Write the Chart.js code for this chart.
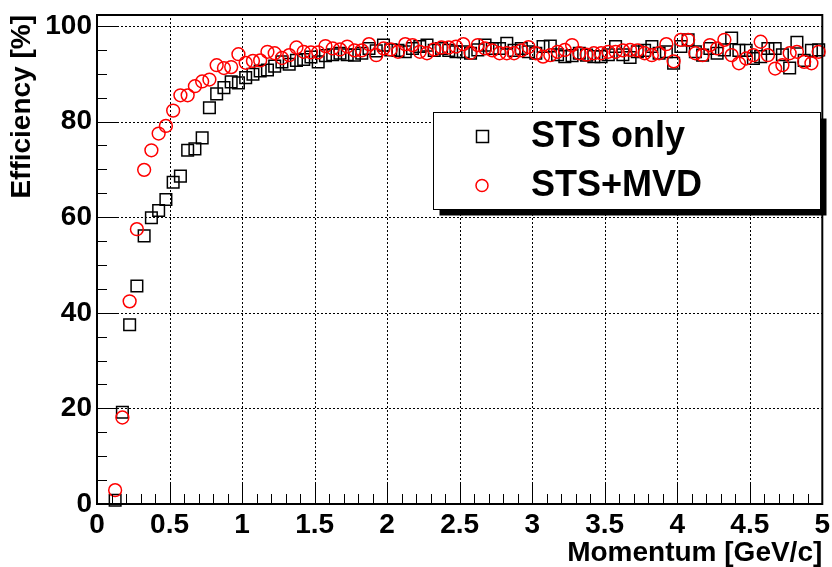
<!DOCTYPE html>
<html>
<head>
<meta charset="utf-8">
<script src="https://cdn.jsdelivr.net/npm/chart.js@4.4.1/dist/chart.umd.min.js"></script>
<style>
  html, body { margin: 0; padding: 0; background: #fff; }
  #wrap { width: 832px; height: 567px; }
</style>
</head>
<body>
<div id="wrap"><canvas id="effChart" width="832" height="567"></canvas></div>
<script>
// momentum bin centres [GeV/c]
const momentum = [
  0.125, 0.175, 0.225, 0.275, 0.325, 0.375, 0.425, 0.475, 0.525, 0.575,
  0.625, 0.675, 0.725, 0.775, 0.825, 0.875, 0.925, 0.975, 1.025, 1.075,
  1.125, 1.175, 1.225, 1.275, 1.325, 1.375, 1.425, 1.475, 1.525, 1.575,
  1.625, 1.675, 1.725, 1.775, 1.825, 1.875, 1.925, 1.975, 2.025, 2.075,
  2.125, 2.175, 2.225, 2.275, 2.325, 2.375, 2.425, 2.475, 2.525, 2.575,
  2.625, 2.675, 2.725, 2.775, 2.825, 2.875, 2.925, 2.975, 3.025, 3.075,
  3.125, 3.175, 3.225, 3.275, 3.325, 3.375, 3.425, 3.475, 3.525, 3.575,
  3.625, 3.675, 3.725, 3.775, 3.825, 3.875, 3.925, 3.975, 4.025, 4.075,
  4.125, 4.175, 4.225, 4.275, 4.325, 4.375, 4.425, 4.475, 4.525, 4.575,
  4.625, 4.675, 4.725, 4.775, 4.825, 4.875, 4.925, 4.975
];

// efficiency [%], STS only (open squares)
const stsOnly = [
  0.8, 19.2, 37.5, 45.6, 56.1, 59.9, 61.4, 63.7, 67.3, 68.6,
  74.0, 74.3, 76.6, 82.9, 85.8, 87.1, 88.3, 88.1, 89.2, 89.9,
  90.6, 90.8, 91.6, 92.5, 92.0, 92.8, 93.0, 93.5, 92.5, 93.8,
  94.0, 94.3, 94.0, 93.9, 94.3, 95.3, 94.8, 96.0, 95.0, 94.9,
  94.6, 95.3, 95.7, 96.0, 94.9, 95.3, 94.9, 94.6, 94.6, 94.3,
  95.0, 96.0, 95.3, 95.3, 96.4, 94.9, 95.3, 94.6, 94.3, 95.7,
  95.8, 94.0, 93.6, 93.8, 94.3, 93.9, 93.6, 93.6, 94.0, 95.7,
  94.0, 93.4, 94.6, 94.9, 95.7, 94.3, 94.6, 92.2, 95.7, 97.1,
  94.6, 93.9, 95.3, 94.3, 95.0, 97.5, 94.9, 94.9, 93.2, 93.6,
  95.3, 95.3, 94.0, 91.2, 96.6, 92.8, 94.9, 95.0
];

// efficiency [%], STS+MVD (open circles)
const stsMvd = [
  2.9, 18.1, 42.4, 57.5, 69.9, 74.0, 77.5, 79.1, 82.3, 85.5,
  85.5, 87.4, 88.4, 88.8, 91.8, 91.2, 91.4, 94.1, 92.3, 92.7,
  92.8, 94.6, 94.3, 93.3, 93.9, 95.5, 94.6, 94.5, 94.5, 95.8,
  95.3, 95.1, 95.7, 94.9, 94.9, 96.2, 93.9, 95.3, 95.1, 94.6,
  96.2, 96.0, 94.6, 94.3, 95.1, 95.5, 95.5, 95.7, 96.2, 94.4,
  96.0, 95.3, 94.9, 94.3, 94.3, 94.3, 94.9, 95.6, 94.3, 93.6,
  93.9, 94.6, 95.0, 96.0, 94.3, 94.0, 94.3, 94.3, 94.6, 94.6,
  94.9, 95.0, 94.9, 94.3, 93.9, 94.3, 96.2, 92.6, 97.1, 97.1,
  94.3, 93.9, 96.0, 95.3, 97.1, 93.9, 92.2, 93.2, 93.9, 96.7,
  93.9, 91.1, 91.8, 94.3, 94.6, 92.5, 92.2, 94.6
];

const seriesNames = ['STS only', 'STS+MVD'];
const xTitle = 'Momentum [GeV/c]';
const yTitle = 'Efficiency [%]';

const FONT = 'Liberation Sans, Arial, Helvetica, sans-serif';
Chart.defaults.font.family = FONT;
Chart.defaults.color = '#000';

function toPoints(ys) {
    return momentum.map((x, i) => ({ x: x, y: ys[i] }));
}

// dotted grid at the major ticks (drawn under the markers)
const gridPlugin = {
    id: 'dottedGrid',
    beforeDatasetsDraw(chart) {
        const { ctx, chartArea: a, scales } = chart;
        ctx.save();
        ctx.strokeStyle = '#000';
        ctx.lineWidth = 1;
        ctx.setLineDash([2, 2]);
        ctx.beginPath();
        scales.x.ticks.forEach(t => {
            const px = Math.round(scales.x.getPixelForValue(t.value)) + 0.5;
            ctx.moveTo(px, a.bottom);
            ctx.lineTo(px, a.top);
        });
        scales.y.ticks.forEach(t => {
            const py = Math.round(scales.y.getPixelForValue(t.value)) + 0.5;
            ctx.moveTo(a.left, py);
            ctx.lineTo(a.right, py);
        });
        ctx.stroke();
        ctx.restore();
    }
};

// frame with ROOT-style inner ticks
const framePlugin = {
    id: 'frame',
    afterDatasetsDraw(chart) {
        const { ctx, chartArea: a, scales } = chart;
        const xs = scales.x, ys = scales.y;
        ctx.save();
        ctx.strokeStyle = '#000';
        ctx.lineWidth = 1;
        ctx.beginPath();
        for (let v = 0; v <= 50; v++) {
            const px = Math.round(xs.getPixelForValue(v / 10)) + 0.5;
            const len = v % 5 === 0 ? 20 : 10;
            ctx.moveTo(px, a.bottom);
            ctx.lineTo(px, a.bottom - len);
        }
        for (let v = 0; v <= 100; v += 5) {
            const py = Math.round(ys.getPixelForValue(v)) + 0.5;
            const len = v % 20 === 0 ? 20 : 10;
            ctx.moveTo(a.left, py);
            ctx.lineTo(a.left + len, py);
        }
        ctx.stroke();
        ctx.lineWidth = 2;
        ctx.strokeRect(a.left, a.top, a.right - a.left, a.bottom - a.top);
        ctx.restore();
    }
};

// ROOT TLegend look: white box with drop shadow
const legendPlugin = {
    id: 'rootLegend',
    afterDraw(chart) {
        const ctx = chart.ctx;
        const box = { x: 433.5, y: 112.5, w: 387, h: 97 };
        ctx.save();
        ctx.fillStyle = '#000';
        ctx.fillRect(box.x + 6, box.y + 6, box.w, box.h);
        ctx.fillStyle = '#fff';
        ctx.fillRect(box.x, box.y, box.w, box.h);
        ctx.strokeStyle = '#000';
        ctx.lineWidth = 1;
        ctx.strokeRect(box.x, box.y, box.w, box.h);

        const rows = [136, 185];
        chart.data.datasets.forEach((ds, i) => {
            ctx.lineWidth = ds.borderWidth;
            ctx.strokeStyle = ds.borderColor;
            ctx.beginPath();
            if (ds.pointStyle === 'rect') {
                ctx.rect(476.5, rows[i] - 5.5, 12, 12);
            } else {
                ctx.arc(482, rows[i] + 0.5, 6, 0, Math.PI * 2);
            }
            ctx.stroke();
            ctx.fillStyle = '#000';
            ctx.font = 'bold 36px ' + FONT;
            ctx.textBaseline = 'middle';
            ctx.textAlign = 'left';
            ctx.fillText(ds.label, 531, rows[i] + 1);
        });
        ctx.restore();
    }
};

const ctx = document.getElementById('effChart').getContext('2d');
new Chart(ctx, {
    type: 'scatter',
    data: {
        datasets: [
            {
                label: seriesNames[0],
                data: toPoints(stsOnly),
                pointStyle: 'rect',
                pointRadius: 8.2,
                pointHoverRadius: 8.2,
                borderColor: '#000',
                backgroundColor: 'rgba(0,0,0,0)',
                borderWidth: 1.5,
                clip: 12,
                order: 2
            },
            {
                label: seriesNames[1],
                data: toPoints(stsMvd),
                pointStyle: 'circle',
                pointRadius: 6.4,
                pointHoverRadius: 6.4,
                borderColor: '#ff0000',
                backgroundColor: 'rgba(0,0,0,0)',
                borderWidth: 1.5,
                clip: 12,
                order: 1
            }
        ]
    },
    options: {
        responsive: false,
        animation: false,
        devicePixelRatio: 1,
        layout: { padding: { left: 0, right: 6, top: 15, bottom: 0 } },
        plugins: {
            legend: { display: false },
            tooltip: { enabled: false }
        },
        scales: {
            x: {
                type: 'linear',
                min: 0,
                max: 5,
                grid: { display: false, drawTicks: false },
                border: { display: false },
                ticks: {
                    stepSize: 0.5,
                    padding: 4,
                    maxRotation: 0,
                    autoSkip: false,
                    font: { size: 28, weight: 'bold' },
                    callback: value => String(value)
                },
                title: {
                    display: true,
                    text: xTitle,
                    align: 'end',
                    padding: { top: 0, bottom: -3 },
                    font: { size: 28, weight: 'bold' }
                },
                afterFit(scale) {
                    scale.height = 63;
                    scale.paddingLeft = 0;
                    scale.paddingRight = 0;
                }
            },
            y: {
                min: 0,
                max: 102.3,
                grid: { display: false, drawTicks: false },
                border: { display: false },
                ticks: {
                    stepSize: 20,
                    includeBounds: false,
                    padding: 5,
                    font: { size: 28, weight: 'bold' },
                    callback: value => String(value)
                },
                title: {
                    display: true,
                    text: yTitle,
                    align: 'end',
                    padding: { top: 5, bottom: 0 },
                    font: { size: 28, weight: 'bold' }
                },
                afterFit(scale) {
                    scale.width = 97;
                    scale.paddingTop = 0;
                    scale.paddingBottom = 0;
                }
            }
        }
    },
    plugins: [gridPlugin, framePlugin, legendPlugin]
});
</script>
</body>
</html>
